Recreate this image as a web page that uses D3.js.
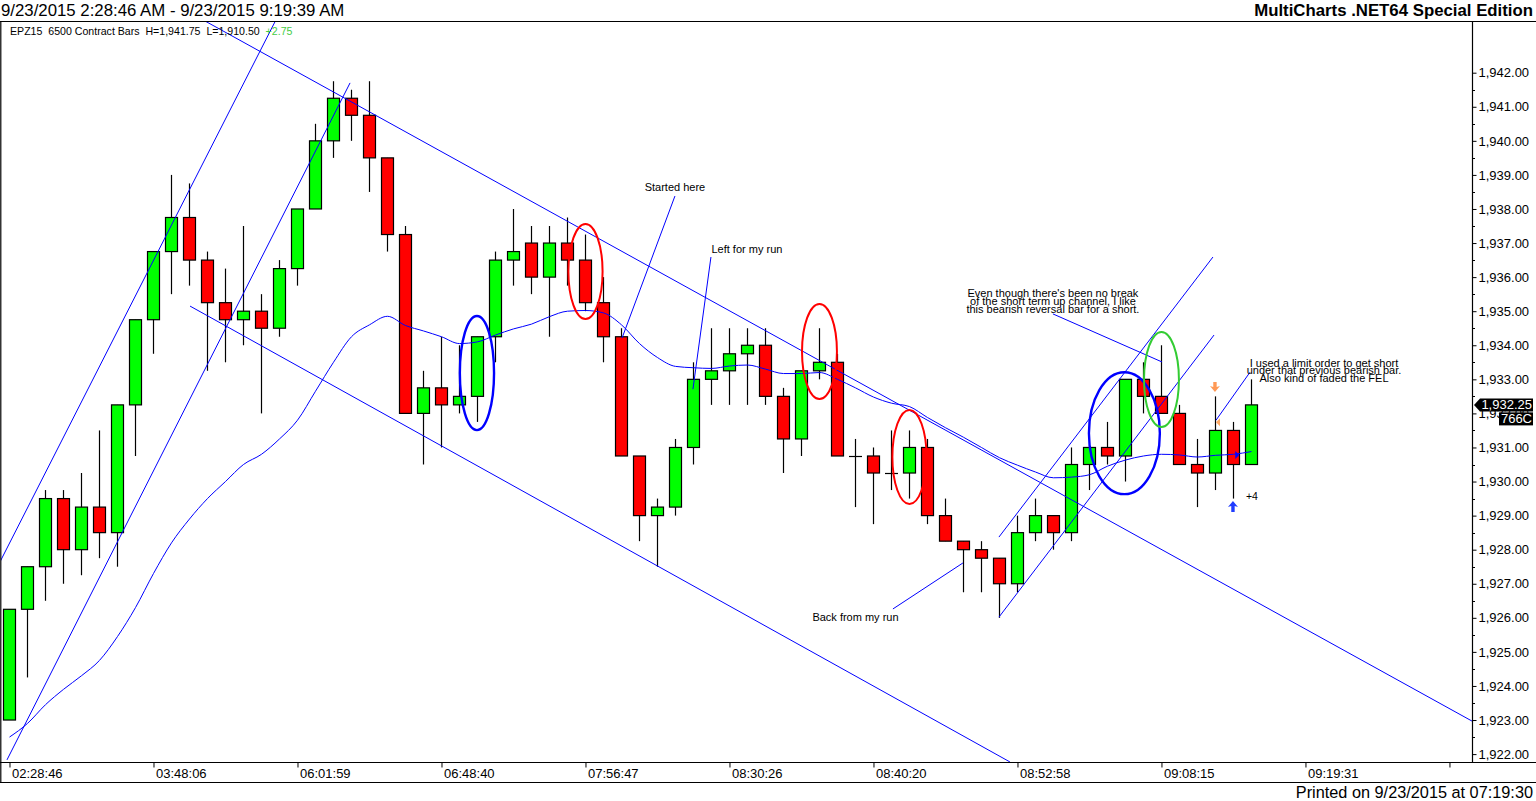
<!DOCTYPE html>
<html><head><meta charset="utf-8">
<script src="https://cdn.jsdelivr.net/npm/d3@7"></script>
<style>
body{margin:0;background:#fff;}
svg{display:block;font-family:"Liberation Sans",Arial,sans-serif;}
</style>
</head><body>
<svg id="c" width="1536" height="801"></svg>
<script>
// ---------------- DATA ----------------
const opens  = [1923,1926.25,1927.5,1929.5,1928,1929.25,1928.5,1932.25,1934.75,1936.75,
                1937.75,1936.5,1935.25,1934.75,1935,1934.5,1936.25,1938,1940,1941.25,
                1940.75,1939.5,1937.25,1932,1932.75,1932.25,1932.5,1934.25,1936.5,1937,
                1936,1937,1936.5,1935.25,1934.25,1930.75,1929,1929.25,1931,1933,
                1933.25,1933.75,1934,1932.5,1931.25,1933.25,1933.5,1930.75,1930.75,1930.25,
                1930.25,1931,1929,1928.25,1928,1927.75,1927,1928.5,1929,1928.5,
                1930.5,1931,1930.75,1933,1932.5,1932,1930.5,1930.25,1931.5,1930.5];
const highs  = [1926.25,1927.5,1929.75,1929.75,1930.25,1931.5,1932.25,1934.75,1936.75,1939,
                1938.75,1936.75,1936.25,1937.5,1935.5,1936.5,1938,1940.5,1941.75,1941.5,
                1941.75,1939.5,1937.5,1933.25,1934.25,1934,1934.25,1936.75,1938,1937.5,
                1937.5,1937.75,1937.25,1936,1934.5,1930.75,1929.5,1931.25,1933.5,1934.5,
                1934.5,1934.5,1934.5,1932.75,1933.25,1934.5,1933.75,1931.25,1931,1931.5,
                1931.5,1931.25,1929.5,1928.25,1928.25,1927.75,1929,1929.5,1929,1931,
                1931,1931.75,1933,1933.5,1934,1932.25,1931.25,1932.5,1931.75,1933];
const lows   = [1923,1924.25,1926.5,1927,1927.25,1927.75,1927.5,1930.75,1933.75,1935.5,
                1935.75,1933.25,1933.5,1934,1932,1934.25,1935.75,1938,1939.5,1940,
                1938.5,1936.75,1932,1930.5,1931,1932,1931.75,1933.5,1935.75,1935.5,
                1934.25,1935.75,1935,1933.5,1930.75,1928.25,1927.5,1929,1930.5,1932.25,
                1932.25,1932.25,1932.25,1930.25,1930.75,1933,1930.75,1929.25,1928.75,1929.75,
                1929.5,1928.75,1928.25,1926.75,1926.75,1926,1926.75,1928.25,1928,1928.25,
                1929.75,1930.5,1930,1932,1932,1930.5,1929.25,1929.75,1929.5,1930.5];
const closes = [1926.25,1927.5,1929.5,1928,1929.25,1928.5,1932.25,1934.75,1936.75,1937.75,
                1936.5,1935.25,1934.75,1935,1934.5,1936.25,1938,1940,1941.25,1940.75,
                1939.5,1937.25,1932,1932.75,1932.25,1932.5,1934.25,1936.5,1936.75,1936,
                1937,1936.5,1935.25,1934.25,1930.75,1929,1929.25,1931,1933,1933.25,
                1933.75,1934,1932.5,1931.25,1933.25,1933.5,1930.75,1930.75,1930.25,1930.25,
                1931,1929,1928.25,1928,1927.75,1927,1928.5,1929,1928.5,1930.5,
                1931,1930.75,1933,1932.5,1932,1930.5,1930.25,1931.5,1930.5,1932.25];
const movingAvg = [1922.5,1922.9,1923.45,1923.9,1924.3,1924.75,1925.45,1926.3,1927.3,1928.2,
                1928.9,1929.5,1930.0,1930.5,1930.8,1931.25,1931.8,1932.65,1933.5,1934.25,
                1934.6,1934.85,1934.58,1934.42,1934.25,1934.05,1934.1,1934.3,1934.48,1934.62,
                1934.84,1935.0,1935.02,1934.95,1934.6,1934.05,1933.64,1933.38,1933.34,1933.32,
                1933.39,1933.42,1933.3,1933.17,1933.17,1933.2,1933.0,1932.75,1932.48,1932.3,
                1932.2,1931.88,1931.58,1931.3,1931.0,1930.7,1930.48,1930.28,1930.11,1930.13,
                1930.2,1930.45,1930.63,1930.75,1930.8,1930.78,1930.72,1930.77,1930.8,1930.88];
const timeTickBars   = [0,8,16,24,32,40,48,56,64,72,80];
const timeTickLabels = ["02:28:46","03:48:06","06:01:59","06:48:40","07:56:47","08:30:26","08:40:20","08:52:58","09:08:15","09:19:31",""];
const priceTicks = d3.range(1922,1943,1);
const priceMinorTicks = d3.range(1922.5,1942,1);
// trend lines: [bar, price] end points
const trendLines = [
  [[-0.53,1927.64],[14.85,1943.6]],
  [[-0.14,1921.83],[18.92,1941.7]],
  [[10.75,1943.55],[81.25,1922.97]],
  [[10.03,1935.15],[55.58,1921.77]],
  [[54.97,1928.37],[66.86,1936.59]],
  [[54.97,1926.02],[66.92,1934.3]]
];
// annotation leader lines
const leaderLines = [
  [[36.97,1938.38],[34.03,1934.21]],
  [[38.97,1936.59],[37.97,1932.71]],
  [[49.08,1926.26],[52.97,1927.61]],
  [[57.97,1934.92],[64.03,1933.51]],
  [[68.92,1933.21],[67.03,1931.8]]
];
// ellipses: bar centre, price low/high, half width in bars
const ellipseBars   = [25.97,32,45,50,61.94,64];
const ellipseLows   = [1931.51,1934.77,1932.42,1929.34,1929.63,1931.6];
const ellipseHighs  = [1934.86,1937.56,1935.21,1932.1,1933.21,1934.39];
const ellipseHalfW  = [0.95,0.95,0.97,0.95,1.97,0.97];
const ellipseKinds  = ["blue","red","red","red","blue","green"];
// text notes: bar (centre), baseline price, lines
const notes = [
  {bar:36.97, price:[1938.53], lines:["Started here"]},
  {bar:40.97, price:[1936.71], lines:["Left for my run"]},
  {bar:47.0,  price:[1925.91], lines:["Back from my run"]},
  {bar:57.97, price:[1935.42,1935.17,1934.94], lines:["Even though there's been no break","of the short term up channel, I like","this bearish reversal bar for a short."]},
  {bar:73.03, price:[1933.36,1933.16,1932.92], lines:["I used a limit order to get short","under that previous bearish bar.","Also kind of faded the FEL"]}
];
const lastPrice = 1932.25;

// ---------------- CHART ----------------
const svg = d3.select("#c");
const W = 1536;
const x = d3.scaleLinear().domain([-0.5, 81.28]).range([0.5, 1472.5]);
const y = d3.scaleLinear().domain([1922, 1942]).range([754.1, 72.7]);

svg.append("rect").attr("width",W).attr("height",801).attr("fill","#fff");

const defs = svg.append("defs");
defs.append("clipPath").attr("id","plot").append("rect")
  .attr("x",1).attr("y",22).attr("width",1471).attr("height",740);

const plot = svg.append("g").attr("clip-path","url(#plot)");

const bars = d3.range(opens.length).map(i => ({i, o:opens[i], h:highs[i], l:lows[i], c:closes[i]}));
const cx = d => Math.round(x(d.i)) + 0.5;

// wicks
plot.selectAll("line.wick").data(bars).join("line")
  .attr("class","wick")
  .attr("x1",cx).attr("x2",cx)
  .attr("y1",d=>y(d.h)).attr("y2",d=>y(d.l))
  .attr("stroke","#000").attr("stroke-width",1.2);

// bodies
bars.forEach(d => {
  const top = y(Math.max(d.o,d.c)), bot = y(Math.min(d.o,d.c));
  const c = cx(d);
  if (bot - top < 0.5) {
    plot.append("line").attr("x1",c-6.5).attr("x2",c+6.5)
      .attr("y1",Math.round(top)+0.5).attr("y2",Math.round(top)+0.5)
      .attr("stroke","#000").attr("stroke-width",1.2);
  } else {
    plot.append("rect").attr("x",c-6).attr("width",12)
      .attr("y",top).attr("height",bot-top)
      .attr("fill", d.c >= d.o ? "#00ff00" : "#ff0000")
      .attr("stroke","#000").attr("stroke-width",1.2);
  }
});

// moving average
const maLine = d3.line().x((d,i)=>x(i)).y(d=>y(d)).curve(d3.curveMonotoneX);
plot.append("path").datum(movingAvg).attr("d",maLine)
  .attr("fill","none").attr("stroke","#0000ff").attr("stroke-width",1);

// trend lines
plot.selectAll("line.trend").data(trendLines).join("line")
  .attr("class","trend")
  .attr("x1",d=>x(d[0][0])).attr("y1",d=>y(d[0][1]))
  .attr("x2",d=>x(d[1][0])).attr("y2",d=>y(d[1][1]))
  .attr("stroke","#0000ff").attr("stroke-width",1);

// leader lines
plot.selectAll("line.leader").data(leaderLines).join("line")
  .attr("class","leader")
  .attr("x1",d=>x(d[0][0])).attr("y1",d=>y(d[0][1]))
  .attr("x2",d=>x(d[1][0])).attr("y2",d=>y(d[1][1]))
  .attr("stroke","#0000ff").attr("stroke-width",1);

// ellipses
const ellColor = {blue:"#0000ff", red:"#ff0000", green:"#33cc33"};
const ellWidth = {blue:2.4, red:2, green:2};
ellipseBars.forEach((b,k) => {
  const yc = (y(ellipseLows[k]) + y(ellipseHighs[k]))/2;
  const ry = (y(ellipseLows[k]) - y(ellipseHighs[k]))/2;
  const rx = x(b + ellipseHalfW[k]) - x(b);
  plot.append("ellipse").attr("cx",x(b)).attr("cy",yc).attr("rx",rx).attr("ry",ry)
    .attr("fill","none").attr("stroke",ellColor[ellipseKinds[k]]).attr("stroke-width",ellWidth[ellipseKinds[k]]);
});

// notes
notes.forEach(n => {
  n.lines.forEach((t,j) => {
    plot.append("text").attr("x",x(n.bar)).attr("y",y(n.price[j]))
      .attr("text-anchor","middle").attr("font-size",11).attr("fill","#000").text(t);
  });
});
plot.append("text").attr("x",x(68.69)).attr("y",y(1929.46))
  .attr("font-size",10.5).attr("fill","#000").text("+4");

// trade markers
{
  const tx = x(68) - 0.5, ty = y(1929.43);
  plot.append("path").attr("fill","#1f3cff")
    .attr("d",`M${tx},${ty} L${tx+5},${ty+6} L${tx+1.7},${ty+5} L${tx+1.7},${ty+11} L${tx-1.7},${ty+11} L${tx-1.7},${ty+5} L${tx-5},${ty+6} Z`);
  const dx = x(67) - 0.5, dy = y(1932.63);
  plot.append("path").attr("fill","#ff9955")
    .attr("d",`M${dx},${dy} L${dx+5},${dy-6} L${dx+1.7},${dy-5} L${dx+1.7},${dy-10} L${dx-1.7},${dy-10} L${dx-1.7},${dy-5} L${dx-5},${dy-6} Z`);
  const ox = x(67.03), oy = y(1931.74);
  plot.append("path").attr("fill","#ffaa66")
    .attr("d",`M${ox},${oy} L${ox+4},${oy-4} L${ox+4},${oy+4} Z`);
  const bx = x(68.1), by = y(1930.78);
  plot.append("path").attr("fill","#0000ff")
    .attr("d",`M${bx+4},${by} L${bx},${by-4} L${bx},${by+4} Z`);
}

// ---------------- AXES & FRAME ----------------
const frame = svg.append("g").attr("stroke","#000").attr("stroke-width",1.2);
frame.append("line").attr("x1",0).attr("x2",W).attr("y1",21.5).attr("y2",21.5);
frame.append("line").attr("x1",0.8).attr("x2",0.8).attr("y1",21).attr("y2",782.5);
frame.append("line").attr("x1",1472.5).attr("x2",1472.5).attr("y1",21).attr("y2",762.5);
frame.append("line").attr("x1",0).attr("x2",W).attr("y1",762.5).attr("y2",762.5);
frame.append("line").attr("x1",0).attr("x2",W).attr("y1",782.5).attr("y2",782.5);

// price axis
const yAxis = d3.axisRight(y).tickValues(priceTicks).tickSize(4).tickPadding(2)
  .tickFormat(d3.format(",.2f"));
const ya = svg.append("g").attr("transform","translate(1472.5,0)").call(yAxis);
ya.select(".domain").remove();
ya.selectAll("text").attr("font-size",13).attr("font-family","Liberation Sans, Arial, sans-serif").attr("fill","#000");
ya.selectAll("line").attr("stroke","#000");
svg.append("g").selectAll("line").data(priceMinorTicks).join("line")
  .attr("x1",1472.5).attr("x2",1475).attr("y1",d=>Math.round(y(d))+0.5).attr("y2",d=>Math.round(y(d))+0.5)
  .attr("stroke","#000");

// time axis
const xAxis = d3.axisBottom(x).tickValues(timeTickBars).tickSize(5)
  .tickFormat((d,i)=>timeTickLabels[i]);
const xa = svg.append("g").attr("transform","translate(0,762.5)").call(xAxis);
xa.select(".domain").remove();
xa.selectAll("text").attr("text-anchor","start").attr("x",2).attr("y",6).attr("dy","0.71em")
  .attr("font-size",13).attr("font-family","Liberation Sans, Arial, sans-serif").attr("fill","#000");
xa.selectAll("line").attr("stroke","#000");

// last price label
{
  const ly = y(lastPrice);
  svg.append("path").attr("fill","#000")
    .attr("d",`M1474,${ly} L1480,${ly-6.5} L1533,${ly-6.5} L1533,${ly+6.5} L1480,${ly+6.5} Z`);
  svg.append("text").attr("x",1532).attr("y",ly+4.5).attr("text-anchor","end")
    .attr("font-size",13).attr("fill","#fff").text(d3.format(",.2f")(lastPrice));
  svg.append("rect").attr("x",1499).attr("y",ly+7.5).attr("width",34).attr("height",13).attr("fill","#000");
  svg.append("text").attr("x",1532).attr("y",ly+18.5).attr("text-anchor","end")
    .attr("font-size",13).attr("fill","#fff").text("766C");
}

// header & footer texts
svg.append("text").attr("x",1).attr("y",16).attr("font-size",16.8).attr("fill","#000")
  .text("9/23/2015 2:28:46 AM - 9/23/2015 9:19:39 AM");
svg.append("text").attr("x",1533).attr("y",16).attr("font-size",16.8).attr("font-weight","bold")
  .attr("text-anchor","end").attr("fill","#000").text("MultiCharts .NET64 Special Edition");
svg.append("text").attr("x",1533).attr("y",798).attr("font-size",16.3)
  .attr("text-anchor","end").attr("fill","#000").text("Printed on 9/23/2015 at 07:19:30");

// info line
const info = svg.append("text").attr("x",10).attr("y",34.5).attr("font-size",10.6).attr("fill","#000");
info.append("tspan").text("EPZ15\u00a0\u00a06500 Contract Bars\u00a0\u00a0H=1,941.75\u00a0\u00a0L=1,910.50\u00a0\u00a0");
info.append("tspan").attr("fill","#44cc44").text("+2.75");
</script>
</body></html>
